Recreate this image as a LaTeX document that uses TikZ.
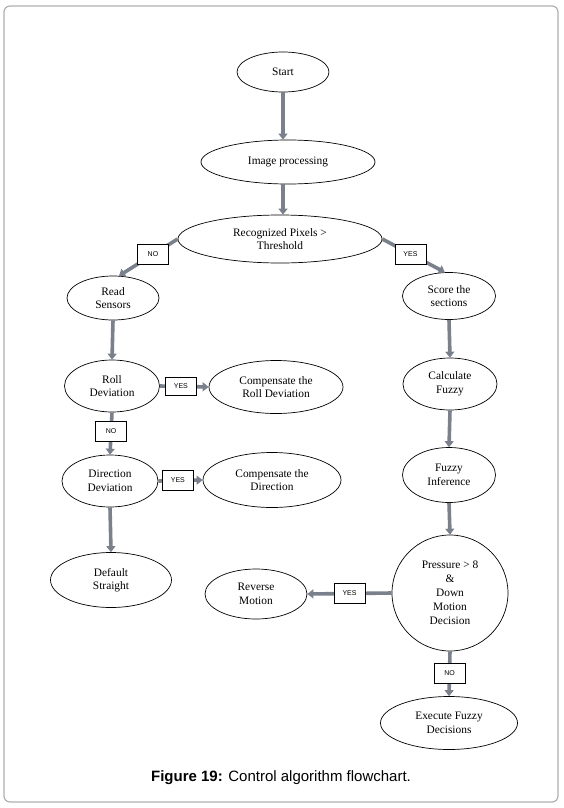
\documentclass[tikz,border=0pt]{standalone}
\usepackage{fontspec}
\setmainfont{Liberation Serif}
\newfontfamily\capfont{Liberation Sans}
\usetikzlibrary{shapes.geometric,arrows.meta}
\definecolor{arrgray}{RGB}{122,128,140}
\definecolor{framegray}{RGB}{175,175,175}
\begin{document}
\begin{tikzpicture}[x=1pt,y=-1pt,
  el/.style={draw=black, line width=0.7pt, ellipse, inner sep=0pt, align=center,
             font=\fontsize{11.4}{13.5}\selectfont},
  lbl/.style={draw=black, line width=0.6pt, fill=white, inner sep=0pt,
              minimum width=31pt, minimum height=20pt, text=black,
              font=\capfont\fontsize{7}{8}\selectfont},
  flow/.style={draw=arrgray, line width=3.6pt, -{Triangle[width=9pt,length=6pt]}}]
\useasboundingbox (0,0) rectangle (564,808);
\draw[framegray, line width=1.2pt, rounded corners=6pt] (4,6) rectangle (558,802);

\node[el, minimum width=92pt, minimum height=40pt] (start) at (283,72) {Start};
\node[el, minimum width=174pt, minimum height=44pt] (img) at (288,162) {Image processing};
\node[el, minimum width=204pt, minimum height=48pt] (rec) at (280,239) {Recognized Pixels >\\Threshold};
\node[el, minimum width=92pt, minimum height=44pt] (rs) at (113,298) {Read\\Sensors};
\node[el, minimum width=93pt, minimum height=47pt] (sc) at (449,296) {Score the\\sections};
\node[el, minimum width=94pt, minimum height=52pt] (cf) at (450,384) {Calculate\\Fuzzy};
\node[el, minimum width=93pt, minimum height=55pt] (fi) at (449,475) {Fuzzy\\Inference};
\node[draw=black, line width=0.7pt, circle, inner sep=0pt, minimum size=116pt, align=center,
      font=\fontsize{11.4}{14}\selectfont] (pr) at (450,593) {Pressure > 8\\\&\\Down\\Motion\\Decision};
\node[el, minimum width=102pt, minimum height=50pt] (rm) at (256,594) {Reverse\\Motion};
\node[el, minimum width=137pt, minimum height=53pt] (ex) at (449,723) {Execute Fuzzy\\Decisions};
\node[el, minimum width=95pt, minimum height=52pt] (rd) at (112,386) {Roll\\Deviation};
\node[el, minimum width=134pt, minimum height=53pt] (crd) at (276,387) {Compensate the\\Roll Deviation};
\node[el, minimum width=96pt, minimum height=52pt] (dd) at (110,481) {Direction\\Deviation};
\node[el, minimum width=138pt, minimum height=55pt] (cd) at (272,480) {Compensate the\\Direction};
\node[el, minimum width=121pt, minimum height=55pt] (ds) at (111,580) {Default\\Straight};

\draw[flow] (start.south) -- (start.south |- img.north);
\draw[flow] (start.south |- img.south) -- (start.south |- rec.north);
\draw[flow] (rec.west) -- node[lbl, pos=0.42] {NO} (rs.75);
\draw[flow] (rec.east) -- node[lbl, pos=0.45] {YES} (sc.100);
\draw[flow] (sc.south) -- (cf.north);
\draw[flow] (cf.south) -- (fi.north);
\draw[flow] (fi.south) -- (pr.north);
\draw[flow] (pr.west) -- node[lbl, pos=0.5] {YES} (rm.east);
\draw[flow] (pr.south) -- node[lbl, pos=0.48] {NO} (ex.north);
\draw[flow] (rs.south) -- (rd.north);
\draw[flow] (rd.east) -- node[lbl, pos=0.43, minimum height=18pt] {YES} (crd.west);
\draw[flow] (rd.south) -- node[lbl, pos=0.44] {NO} (dd.north);
\draw[flow] (dd.east) -- node[lbl, pos=0.44] {YES} (cd.west);
\draw[flow] (dd.south) -- (ds.north);

\node[font=\capfont\fontsize{15}{18}\selectfont] (cap) at (281,778)
  {\textbf{Figure 19:} Control algorithm flowchart.};
\end{tikzpicture}
\end{document}
